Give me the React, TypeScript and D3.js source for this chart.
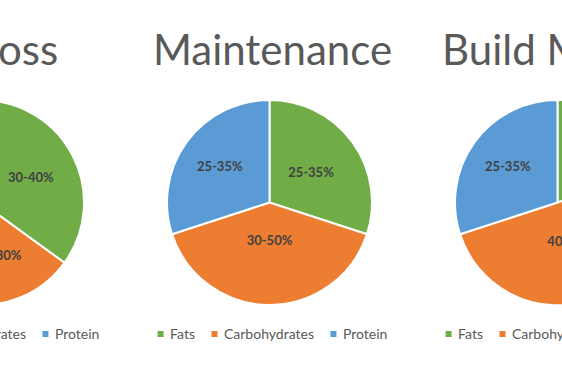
import React from "react";
import * as d3 from "d3";

const categories = ["Fats", "Carbohydrates", "Protein"];
const chartTitles = ["Fat Loss", "Maintenance", "Build Muscle"];
const fatLossValues = [35, 20, 45];
const fatLossLabels = ["30-40%", "10-30%", "40-50%"];
const maintenanceValues = [30, 40, 30];
const maintenanceLabels = ["25-35%", "30-50%", "25-35%"];
const buildMuscleValues = [20, 50, 30];
const buildMuscleLabels = ["15-25%", "40-60%", "25-35%"];

const seriesValues = [fatLossValues, maintenanceValues, buildMuscleValues];
const seriesLabels = [fatLossLabels, maintenanceLabels, buildMuscleLabels];

// layout / style
const W = 562;
const H = 380;
const COLORS = ["#70AD47", "#ED7D31", "#5B9BD5"];
const SPACING = 288;
const MID_CX = 269.5;
const CY = 202.5;
const R = 102.5;
const LABEL_FRAC = [
  [0.54, 0.54, 0.5],
  [0.5, 0.37, 0.6],
  [0.5, 0.4, 0.6],
];
const FONT = "Lato, 'Open Sans', sans-serif";
const LEGEND_FONT_SIZE = 14;

function measure(text: string, font: string): number {
  const c = document.createElement("canvas");
  const ctx = c.getContext("2d");
  if (!ctx) return text.length * 7;
  ctx.font = font;
  return ctx.measureText(text).width;
}

const color = d3.scaleOrdinal<string, string>().domain(categories).range(COLORS);

function PieChart({ idx }: { idx: number }) {
  const cx = MID_CX + (idx - 1) * SPACING;
  const center = cx + 3;
  const values = seriesValues[idx];
  const labels = seriesLabels[idx];
  const data = categories.map((c, i) => ({ cat: c, value: values[i], label: labels[i], i }));
  const pie = d3.pie<any>().value((d) => d.value).sort(null);
  const arcs = pie(data);
  const arc = d3.arc<any>().innerRadius(0).outerRadius(R);

  // legend layout
  const lf = `${LEGEND_FONT_SIZE}px ${FONT}`;
  const sq = 6;
  const gapSqText = 6.5;
  const gapItem = 16.5;
  const widths = categories.map((c) => measure(c, lf));
  const total = widths.reduce((a, w) => a + sq + gapSqText + w, 0) + gapItem * (categories.length - 1);
  let x = center - total / 2;
  const items = categories.map((c, i) => {
    const it = { c, x };
    x += sq + gapSqText + widths[i] + gapItem;
    return it;
  });

  return (
    <g>
      <text
        x={center}
        y={65}
        textAnchor="middle"
        fontFamily={FONT}
        fontWeight={400}
        fontSize={42}
        fill="#595959"
      >
        {chartTitles[idx]}
      </text>
      <g transform={`translate(${cx},${CY})`}>
        {arcs.map((a) => (
          <path key={a.data.cat} d={arc(a) || ""} fill={color(a.data.cat)} stroke="#fff" strokeWidth={2} />
        ))}
        {arcs.map((a) => {
          const f = LABEL_FRAC[idx][a.data.i];
          const la = d3.arc<any>().innerRadius(R * f * 2).outerRadius(0);
          const [lx, ly] = la.centroid(a);
          return (
            <text
              key={"l" + a.data.cat}
              x={lx}
              y={ly}
              dy="0.35em"
              textAnchor="middle"
              fontFamily={FONT}
              fontWeight="bold"
              fontSize={13}
              fill="#404040"
            >
              {a.data.label}
            </text>
          );
        })}
      </g>
      <g>
        {items.map((it) => (
          <g key={it.c}>
            <rect x={it.x} y={331} width={sq} height={sq} fill={color(it.c)} />
            <text x={it.x + sq + gapSqText} y={339} fontFamily={FONT} fontSize={LEGEND_FONT_SIZE} fill="#595959">
              {it.c}
            </text>
          </g>
        ))}
      </g>
    </g>
  );
}

export default function App() {
  return (
    <svg
      width={W}
      height={H}
      style={{ position: "absolute", left: 0, top: 0, background: "#fff" }}
    >
      <rect width={W} height={H} fill="#fff" />
      {chartTitles.map((t, i) => (
        <PieChart key={t} idx={i} />
      ))}
    </svg>
  );
}
